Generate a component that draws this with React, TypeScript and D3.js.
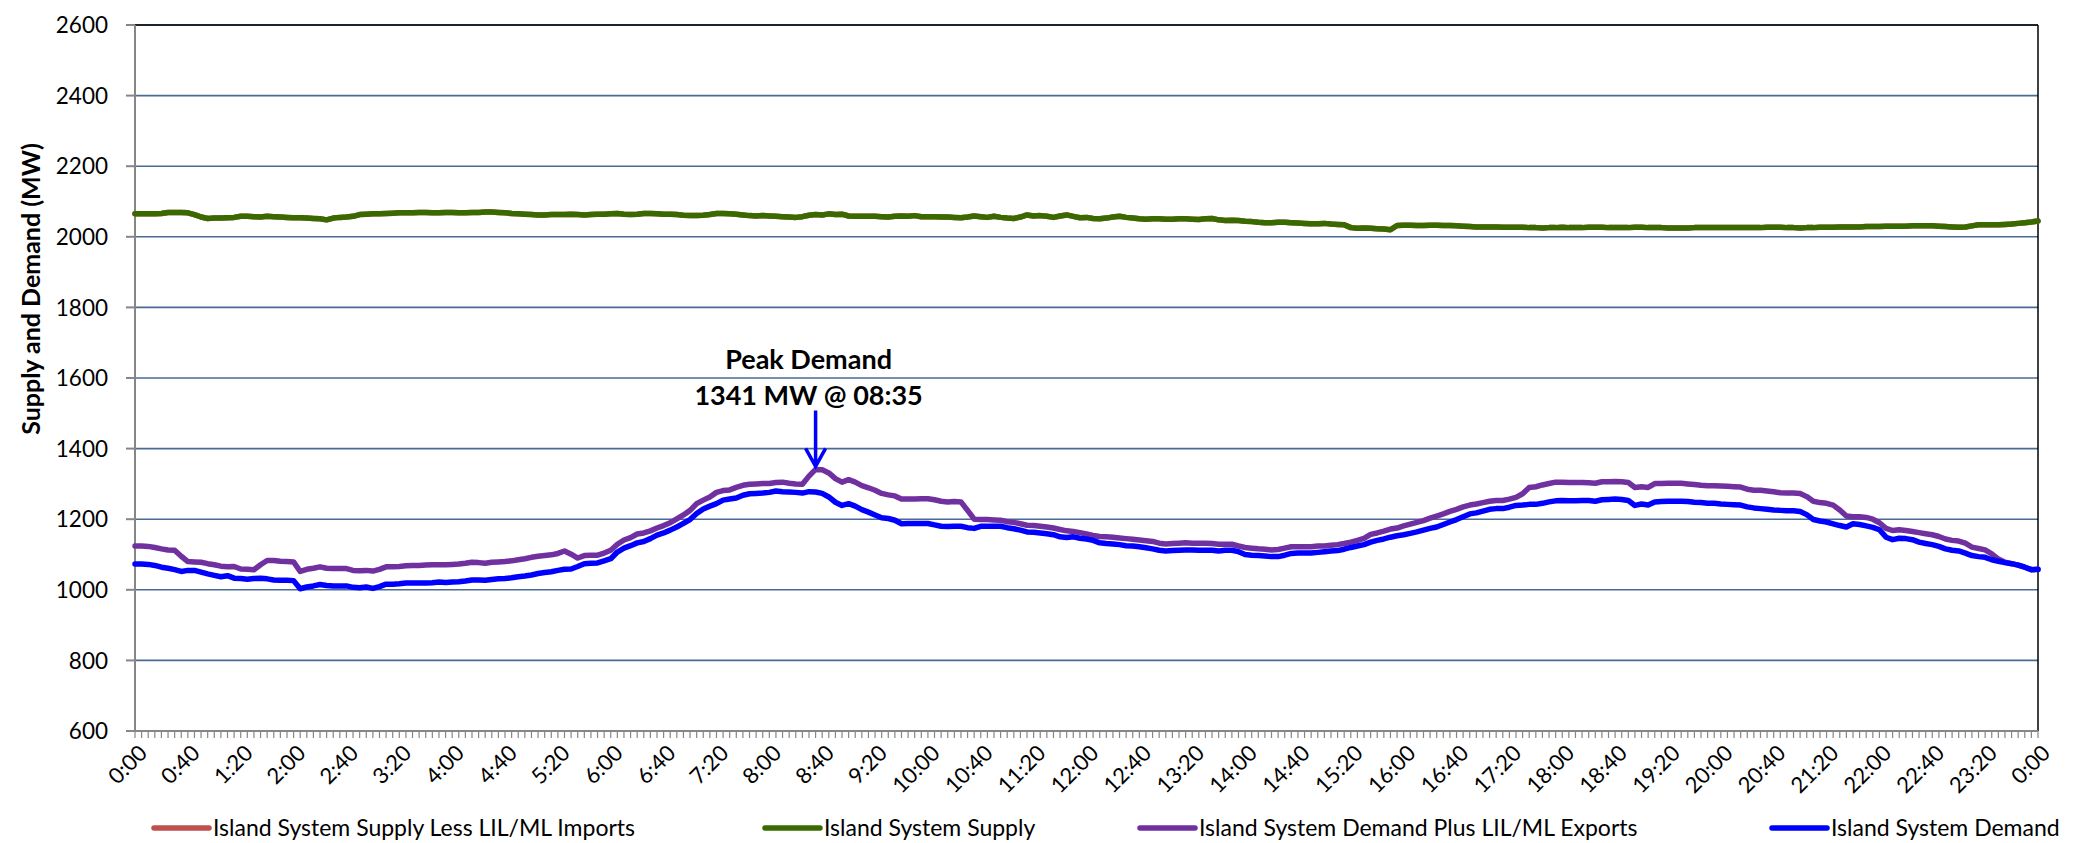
import React from 'react';
import * as d3 from 'd3';

// 5-minute readings, 0:00 to 0:00 next day (289 points)
const islandSupply = [
  2065, 2065, 2065, 2065, 2066, 2069, 2069, 2069, 2068, 2063, 2056,
  2052, 2053, 2053, 2054, 2055, 2058, 2058, 2057, 2056, 2058,
  2057, 2056, 2055, 2054, 2054, 2053, 2052, 2051, 2048, 2053,
  2055, 2056, 2058, 2063, 2064, 2065, 2065, 2066, 2067, 2068,
  2068, 2068, 2069, 2069, 2068, 2068, 2069, 2069,
  2068, 2068, 2069, 2069, 2070, 2070, 2069, 2068,
  2066, 2065, 2064, 2063,
  2062, 2062, 2063, 2063, 2063, 2064, 2063, 2062, 2063, 2064, 2064, 2065,
  2066, 2064, 2063, 2064, 2066, 2066, 2065, 2064, 2064, 2063, 2061, 2060,
  2060, 2061, 2063, 2066, 2066, 2065, 2064, 2062, 2060, 2059, 2060, 2059,
  2058, 2057, 2056, 2055, 2057, 2061, 2063, 2062, 2065, 2063, 2064, 2059,
  2058, 2058, 2058, 2058, 2057, 2056, 2058, 2059, 2058, 2060, 2057, 2057,
  2057, 2056, 2056, 2055, 2054, 2056, 2059, 2057, 2055, 2058, 2055, 2053,
  2052, 2056, 2062, 2059, 2060, 2058, 2055, 2059, 2062, 2058, 2054, 2055,
  2052, 2051, 2053, 2056, 2058, 2055, 2053, 2051, 2050, 2051, 2051, 2050,
  2050, 2051, 2051, 2050, 2049, 2051, 2052, 2048, 2046, 2047, 2046, 2044,
  2043, 2041, 2040, 2040, 2041, 2041, 2040, 2039, 2038, 2037, 2037, 2038,
  2036, 2035, 2034, 2026, 2024, 2025, 2024, 2023, 2022, 2020, 2032, 2033,
  2033, 2032, 2032, 2033, 2033, 2032, 2032, 2031, 2030, 2029, 2028, 2028,
  2028, 2028, 2027, 2027, 2027, 2027, 2026, 2026, 2025, 2026, 2026, 2027,
  2026, 2026, 2026, 2027, 2027, 2027, 2026, 2026, 2026, 2026, 2027, 2027,
  2026, 2026, 2026, 2025, 2025, 2025, 2025, 2026, 2026, 2026, 2026, 2026,
  2026, 2026, 2026, 2026, 2026, 2026, 2027, 2027, 2027, 2026, 2026, 2025,
  2026, 2026, 2027, 2027, 2027, 2028, 2028, 2028, 2028, 2029, 2029, 2029,
  2030, 2030, 2030, 2030, 2031, 2031, 2031, 2031, 2030, 2029, 2028, 2027,
  2028, 2031, 2034, 2034, 2034, 2034, 2035, 2036, 2038, 2040, 2042, 2045,
];

// no LIL/ML imports on this day: the red series sits under the green one
const supplyLessImports = islandSupply;

const demandPlusExports = [
  1124, 1124, 1123, 1120, 1116, 1113, 1112, 1095, 1080, 1079, 1078,
  1074, 1071, 1067, 1065, 1066, 1059, 1058, 1057, 1071, 1083,
  1083, 1081, 1080, 1079, 1052, 1058, 1061, 1065, 1061, 1060,
  1060, 1060, 1055, 1054, 1055, 1053, 1058, 1065, 1065, 1066,
  1068, 1069, 1069, 1070, 1071, 1071, 1071, 1072, 1073, 1075,
  1078, 1077, 1075, 1078, 1079, 1080, 1082, 1085, 1088, 1092,
  1095, 1097, 1099, 1103, 1110, 1101, 1090, 1097, 1098, 1098,
  1104, 1112, 1129, 1141, 1148, 1158, 1161, 1167, 1175, 1182,
  1190, 1201, 1212, 1225, 1244, 1254, 1263, 1276, 1281, 1283,
  1290, 1296, 1299, 1300, 1301, 1301, 1304, 1305, 1302, 1300,
  1299, 1322, 1341, 1340, 1331, 1315, 1305, 1312, 1305, 1295,
  1289, 1282, 1273, 1269, 1266, 1257, 1257, 1257, 1258, 1258,
  1255, 1251, 1249, 1250, 1249, 1225, 1200, 1199, 1199, 1198,
  1197, 1193, 1191, 1187, 1183, 1182, 1180, 1178, 1175, 1171,
  1167, 1165, 1162, 1158, 1154, 1151, 1150, 1149, 1147, 1145,
  1143, 1141, 1139, 1137, 1132, 1130, 1131, 1132, 1133, 1132,
  1132, 1132, 1131, 1129, 1129, 1129, 1124, 1120, 1118, 1116,
  1115, 1113, 1114, 1118, 1122, 1122, 1122, 1122, 1124, 1124,
  1126, 1128, 1131, 1135, 1140, 1146, 1157, 1161, 1166, 1172,
  1175, 1181, 1186, 1191, 1196, 1203, 1209, 1215, 1222, 1228,
  1235, 1240, 1243, 1247, 1251, 1253, 1253, 1257, 1262, 1272,
  1290, 1292, 1297, 1301, 1305, 1305, 1304, 1304, 1304, 1303,
  1302, 1306, 1306, 1307, 1306, 1304, 1290, 1292, 1290, 1301,
  1301, 1302, 1302, 1302, 1300, 1298, 1296, 1295, 1295, 1294,
  1293, 1292, 1291, 1285, 1282, 1282, 1280, 1278, 1275, 1274,
  1274, 1273, 1264, 1251, 1247, 1245, 1240, 1226, 1209, 1207,
  1207, 1205, 1200, 1190, 1174, 1168, 1170, 1168, 1165, 1162,
  1159, 1156, 1151, 1144, 1140, 1138, 1132, 1121, 1117, 1113,
  1102, 1087, 1078, 1074, 1070, 1064, 1057, 1058,
];

const islandDemand = [
  1073, 1073, 1072, 1069, 1064, 1061, 1057, 1052, 1055, 1055, 1050,
  1045, 1041, 1037, 1040, 1033, 1032, 1030, 1032, 1033, 1031,
  1028, 1027, 1027, 1026, 1003, 1008, 1011, 1015, 1012, 1011,
  1011, 1011, 1007, 1006, 1008, 1004, 1009, 1016, 1016, 1017,
  1019, 1019, 1019, 1019, 1020, 1022, 1021, 1022, 1023, 1025,
  1028, 1028, 1027, 1029, 1031, 1032, 1034, 1037, 1039, 1042,
  1046, 1049, 1051, 1055, 1058, 1059, 1066, 1074, 1075, 1076,
  1082, 1088, 1107, 1118, 1125, 1133, 1137, 1145, 1155, 1161,
  1169, 1178, 1188, 1199, 1216, 1229, 1237, 1244, 1254, 1257,
  1260, 1268, 1272, 1273, 1274, 1276, 1280, 1278, 1277, 1276,
  1274, 1278, 1277, 1273, 1263, 1248, 1239, 1244, 1237, 1227,
  1220, 1212, 1204, 1202, 1197, 1187, 1188, 1188, 1188, 1188,
  1184, 1180, 1179, 1180, 1180, 1176, 1174, 1180, 1180, 1180,
  1180, 1176, 1173, 1169, 1164, 1163, 1161, 1159, 1156, 1150,
  1148, 1150, 1146, 1144, 1140, 1133, 1131, 1130, 1128, 1125,
  1124, 1122, 1119, 1116, 1112, 1110, 1111, 1112, 1113, 1113,
  1112, 1112, 1112, 1110, 1112, 1112, 1108, 1100, 1098, 1097,
  1096, 1094, 1094, 1098, 1103, 1104, 1104, 1104, 1106, 1108,
  1110, 1111, 1115, 1120, 1124, 1128, 1135, 1140, 1144, 1149,
  1153, 1156, 1160, 1164, 1169, 1174, 1178, 1185, 1192, 1199,
  1207, 1215, 1218, 1223, 1228, 1230, 1230, 1234, 1239, 1240,
  1242, 1242, 1245, 1249, 1252, 1253, 1252, 1252, 1253, 1253,
  1251, 1255, 1256, 1257, 1256, 1253, 1239, 1243, 1240, 1249,
  1250, 1251, 1251, 1251, 1250, 1248, 1247, 1245, 1245, 1243,
  1242, 1241, 1240, 1235, 1232, 1230, 1228, 1226, 1225, 1224,
  1224, 1222, 1213, 1199, 1195, 1192, 1187, 1182, 1178, 1187,
  1185, 1181, 1177, 1170, 1149, 1142, 1146, 1145, 1142, 1135,
  1131, 1128, 1123, 1116, 1112, 1110, 1104, 1097, 1094, 1092,
  1085, 1081, 1077, 1074, 1070, 1064, 1057, 1058,
];

const tickLabels = [
  '0:00', '0:40', '1:20', '2:00', '2:40', '3:20', '4:00', '4:40', '5:20',
  '6:00', '6:40', '7:20', '8:00', '8:40', '9:20', '10:00', '10:40', '11:20',
  '12:00', '12:40', '13:20', '14:00', '14:40', '15:20', '16:00', '16:40',
  '17:20', '18:00', '18:40', '19:20', '20:00', '20:40', '21:20', '22:00',
  '22:40', '23:20', '0:00',
];
const labelEvery = 8; // one label per 40 minutes
const yTicks = [600, 800, 1000, 1200, 1400, 1600, 1800, 2000, 2200, 2400, 2600];

const seriesNames = [
  'Island System Supply Less LIL/ML Imports',
  'Island System Supply',
  'Island System Demand Plus LIL/ML Exports',
  'Island System Demand',
];
const seriesColors = ['#c0504d', '#386a00', '#7030a0', '#0000ff'];
const seriesData = [supplyLessImports, islandSupply, demandPlusExports, islandDemand];

const peakIndex = 103;
const peakValue = 1341;

const W = 2087;
const H = 843;
const font = 'Lato, "Open Sans", sans-serif';

export default function App() {
  const left = 135;
  const right = 2038;
  const top = 25;
  const bottom = 731;
  const n = islandDemand.length - 1;

  const x = d3.scaleLinear().domain([0, n]).range([left, right]);
  const y = d3.scaleLinear().domain([600, 2600]).range([bottom, top]);

  const line = d3
    .line<number>()
    .x((d, i) => x(i))
    .y((d) => y(d));

  const legendLineX = [154, 765, 1140, 1772];

  const px = x(peakIndex);
  const py = y(peakValue);

  return (
    <svg
      width={W}
      height={H}
      style={{ position: 'absolute', left: 0, top: 0, background: '#fff' }}
      fontFamily={font}
    >
      <rect x={0} y={0} width={W} height={H} fill="#fff" />

      {/* gridlines */}
      {yTicks.map((t) => (
        <line
          key={'g' + t}
          x1={left}
          x2={right}
          y1={y(t)}
          y2={y(t)}
          stroke="#4a6a96"
          strokeWidth={1.6}
        />
      ))}

      {/* plot border */}
      <line x1={left} x2={right} y1={top} y2={top} stroke="#000" strokeWidth={1.5} />
      <line x1={right} x2={right} y1={top} y2={bottom} stroke="#000" strokeWidth={1.5} />

      {/* y axis */}
      <line x1={left} x2={left} y1={top} y2={bottom + 1} stroke="#868686" strokeWidth={2} />
      {yTicks.map((t) => (
        <g key={'y' + t}>
          <line x1={left - 9} x2={left} y1={y(t)} y2={y(t)} stroke="#868686" strokeWidth={2} />
          <text x={108} y={y(t)} dy="0.36em" textAnchor="end" fontSize={22.5} fill="#000">
            {t}
          </text>
        </g>
      ))}
      <text
        transform={`translate(31, 289) rotate(-90)`}
        textAnchor="middle"
        dy="0.35em"
        fontSize={25}
        fontWeight="bold"
        fill="#000"
      >
        Supply and Demand (MW)
      </text>

      {/* x axis */}
      <line x1={left} x2={right} y1={bottom} y2={bottom} stroke="#868686" strokeWidth={2} />
      {d3.range(0, n + 1).map((i) => (
        <line key={'t' + i} x1={x(i)} x2={x(i)} y1={bottom} y2={bottom + 7} stroke="#868686" strokeWidth={1.2} />
      ))}
      {tickLabels.map((lab, k) => (
        <text
          key={'l' + k}
          transform={`translate(${x(k * labelEvery) + 8}, ${bottom + 18}) rotate(-45)`}
          textAnchor="end"
          dy="0.35em"
          fontSize={22}
          fill="#000"
        >
          {lab}
        </text>
      ))}

      {/* series */}
      {seriesData.map((s, k) => (
        <path
          key={'s' + k}
          d={line(s) || ''}
          fill="none"
          stroke={seriesColors[k]}
          strokeWidth={5.5}
          strokeLinejoin="round"
          strokeLinecap="round"
        />
      ))}

      {/* peak annotation */}
      <text x={px - 7} y={360} dy="0.35em" textAnchor="middle" fontSize={27} fontWeight="bold" fill="#000">
        Peak Demand
      </text>
      <text x={px - 7} y={396} dy="0.35em" textAnchor="middle" fontSize={27} fontWeight="bold" fill="#000">
        {`${peakValue} MW @ 08:35`}
      </text>
      <path
        d={`M${px},${py - 59} L${px},${py - 3} M${px - 10},${py - 21} L${px},${py - 3} L${px + 10},${py - 21}`}
        fill="none"
        stroke="#0000ff"
        strokeWidth={3.5}
      />

      {/* legend */}
      {seriesNames.map((name, k) => (
        <g key={'lg' + k}>
          <line
            x1={legendLineX[k]}
            x2={legendLineX[k] + 55}
            y1={828}
            y2={828}
            stroke={seriesColors[k]}
            strokeWidth={5.5}
            strokeLinecap="round"
          />
          <text x={legendLineX[k] + 59} y={828} dy="0.35em" fontSize={23} fill="#000">
            {name}
          </text>
        </g>
      ))}
    </svg>
  );
}
